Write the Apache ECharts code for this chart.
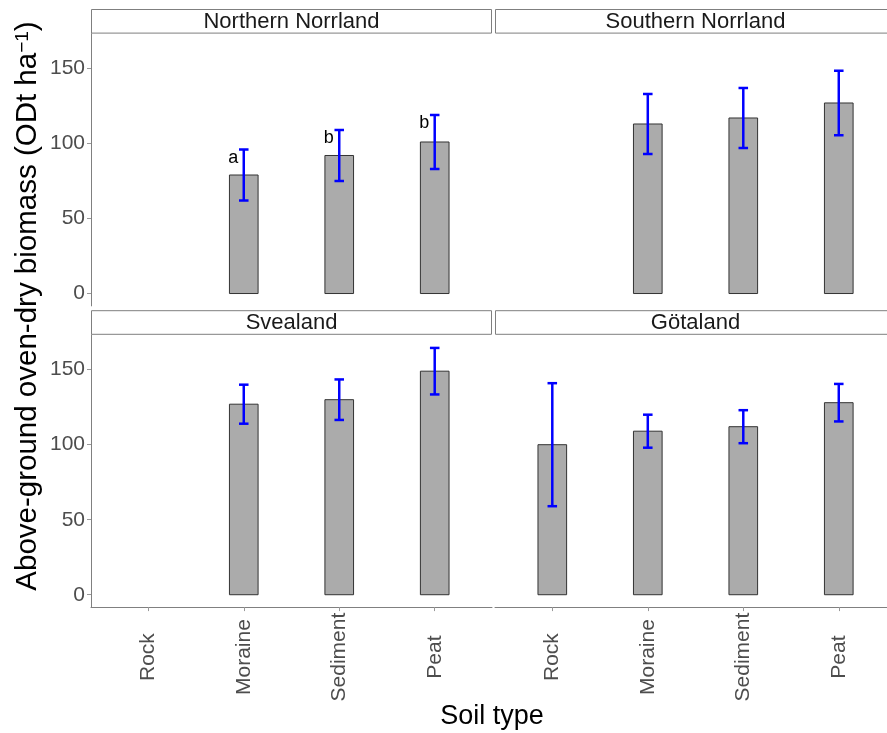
<!DOCTYPE html>
<html lang="en">
<head>
    <meta charset="UTF-8">
    <title>Above-ground biomass by soil type</title>
    <script type="text/javascript" src="https://cdn.jsdelivr.net/npm/echarts@6/dist/echarts.min.js"></script>
    <style>
        html, body { margin: 0; padding: 0; background: #fff; }
        #chart { width: 887px; height: 733px; }
    </style>
</head>
<body>
<div id="chart"></div>
<script type="text/javascript">
    // data
    var regions = ['Northern Norrland', 'Southern Norrland', 'Svealand', 'Götaland'];
    var soils = ['Rock', 'Moraine', 'Sediment', 'Peat'];
    var yTicks = [0, 50, 100, 150];

    var meanNorthern = [null, 79, 92, 101];
    var errNorthern = [null, 17, 17, 18];
    var letterNorthern = ['', 'a', 'b', 'b'];

    var meanSouthern = [null, 113, 117, 127];
    var errSouthern = [null, 20, 20, 21.5];

    var meanSvealand = [null, 127, 130, 149];
    var errSvealand = [null, 13, 13.5, 15.5];

    var meanGotaland = [100, 109, 112, 128];
    var errGotaland = [41, 11, 11, 12.5];

    var panels = [
        {means: meanNorthern, errs: errNorthern, letters: letterNorthern},
        {means: meanSouthern, errs: errSouthern, letters: null},
        {means: meanSvealand, errs: errSvealand, letters: null},
        {means: meanGotaland, errs: errGotaland, letters: null}
    ];

    // layout (ggplot facet look); the right column runs past the page edge
    var colLeft = [91, 495];
    var panelW = [401, 392];
    var xMax = [4.6, 4.505];
    var rowTop = [33.6, 334.8];
    var panelH = 272.3;
    var stripH = 24.6;

    function makeRender(p) {
        return function (params, api) {
            var x = api.value(0);
            var m = api.value(1);
            var e = p.errs[api.value(2)];
            var a = api.coord([x - 0.15, 0]);
            var b = api.coord([x + 0.15, m]);
            var top = api.coord([x, m + e]);
            var bot = api.coord([x, m - e]);
            var cap = api.size([0.05, 0])[0];
            var kids = [
                {type: 'rect', shape: {x: a[0], y: b[1], width: b[0] - a[0], height: a[1] - b[1]},
                    style: {fill: '#ababab', stroke: '#333333', lineWidth: 1}},
                {type: 'line', shape: {x1: top[0], y1: top[1], x2: bot[0], y2: bot[1]},
                    style: {stroke: '#0000ff', lineWidth: 2.5}},
                {type: 'line', shape: {x1: top[0] - cap, y1: top[1], x2: top[0] + cap, y2: top[1]},
                    style: {stroke: '#0000ff', lineWidth: 2.5}},
                {type: 'line', shape: {x1: bot[0] - cap, y1: bot[1], x2: bot[0] + cap, y2: bot[1]},
                    style: {stroke: '#0000ff', lineWidth: 2.5}}
            ];
            if (p.letters) {
                var t = api.coord([x - 0.11, m + e - 5.5]);
                kids.push({type: 'text', x: t[0], y: t[1],
                    style: {text: p.letters[api.value(2)], fill: '#000', font: '18px Liberation Sans, Arial, sans-serif',
                        align: 'center', verticalAlign: 'middle'}});
            }
            return {type: 'group', children: kids};
        };
    }

    var grids = [], xAxes = [], yAxes = [], series = [], graphics = [];

    panels.forEach(function (p, i) {
        var row = Math.floor(i / 2), col = i % 2;
        grids.push({left: colLeft[col], top: rowTop[row], width: panelW[col], height: panelH, containLabel: false});
        xAxes.push({
            type: 'value', gridIndex: i, min: 0.4, max: xMax[col],
            splitLine: {show: false},
            axisLine: {show: row === 1, onZero: false, lineStyle: {color: '#808080', width: 1}},
            axisTick: {show: row === 1, customValues: [1, 2, 3, 4], length: 4, lineStyle: {color: '#999999'}},
            axisLabel: {
                show: row === 1, customValues: [1, 2, 3, 4], rotate: 90,
                align: 'center', verticalAlign: 'middle', margin: 50,
                color: '#4d4d4d', fontSize: 21, fontFamily: 'Liberation Sans, Arial, sans-serif',
                formatter: function (v) { return soils[Math.round(v) - 1]; }
            }
        });
        yAxes.push({
            type: 'value', gridIndex: i, min: -8.25, max: 173.25,
            splitLine: {show: false},
            axisLine: {show: col === 0, onZero: false, lineStyle: {color: '#808080', width: 1}},
            axisTick: {show: col === 0, customValues: yTicks, length: 4, lineStyle: {color: '#999999'}},
            axisLabel: {
                show: col === 0, customValues: yTicks, margin: 6,
                color: '#4d4d4d', fontSize: 21, fontFamily: 'Liberation Sans, Arial, sans-serif'
            }
        });
        var data = [];
        p.means.forEach(function (m, k) {
            if (m !== null) data.push([k + 1, m, k]);
        });
        series.push({
            type: 'custom', xAxisIndex: i, yAxisIndex: i,
            renderItem: makeRender(p), data: data, clip: false, silent: true
        });
        // strip (right column strip runs off the page like the reference)
        graphics.push({
            type: 'rect', shape: {x: colLeft[col] + 0.5, y: rowTop[row] - stripH + 0.5, width: 400, height: stripH - 1},
            style: {fill: '#ffffff', stroke: '#7f7f7f', lineWidth: 1}
        });
        graphics.push({
            type: 'text', x: colLeft[col] + 200.5, y: rowTop[row] - stripH / 2 + 0.5,
            style: {text: regions[i], fill: '#1a1a1a', font: '22px Liberation Sans, Arial, sans-serif',
                align: 'center', verticalAlign: 'middle'}
        });
    });

    graphics.push({
        type: 'text', x: 28, y: 306, rotation: Math.PI / 2,
        style: {
            text: 'Above-ground oven-dry biomass (ODt ha{sup|\u22121})',
            fill: '#000', font: '29.5px Liberation Sans, Arial, sans-serif',
            align: 'center', verticalAlign: 'middle',
            rich: {sup: {fontSize: 19, fontFamily: 'Liberation Sans, Arial, sans-serif', verticalAlign: 'top', fill: '#000'}}
        }
    });
    graphics.push({
        type: 'text', x: 492, y: 717,
        style: {text: 'Soil type', fill: '#000', font: '27px Liberation Sans, Arial, sans-serif',
            align: 'center', verticalAlign: 'middle'}
    });

    var chart = echarts.init(document.getElementById('chart'), null, {renderer: 'canvas'});
    chart.setOption({
        animation: false,
        backgroundColor: '#ffffff',
        grid: grids,
        xAxis: xAxes,
        yAxis: yAxes,
        series: series,
        graphic: graphics
    });
</script>
</body>
</html>
